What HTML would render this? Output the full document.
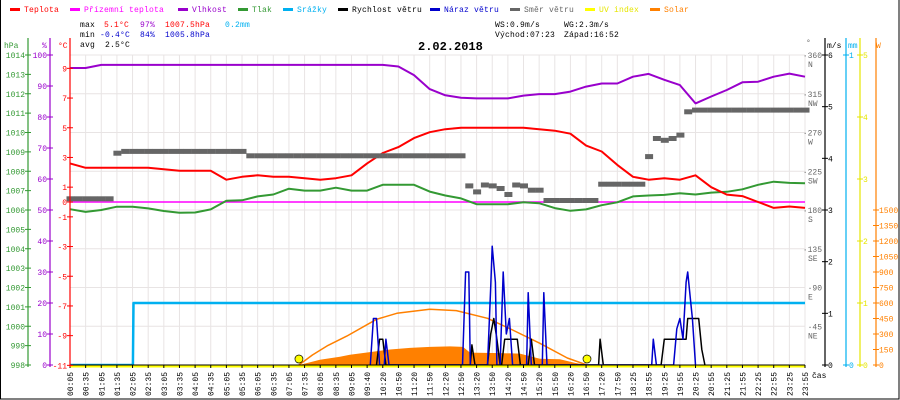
<!DOCTYPE html>
<html><head><meta charset="utf-8"><style>
html,body{margin:0;padding:0;background:#fff;}
svg{display:block;font-family:"Liberation Mono",monospace;}
</style></head><body>
<svg id="c" width="900" height="400" viewBox="0 0 900 400" xmlns="http://www.w3.org/2000/svg">
<rect x="0.5" y="-1" width="898.5" height="400" fill="#fff" stroke="#000" stroke-width="1"/>
<g id="legend" font-size="8" letter-spacing="0.2"></g>
<g font-size="8" letter-spacing="0.2">
<text x="80" y="27" fill="#000">max</text><text x="104" y="27" fill="#f00">5.1°C</text><text x="140" y="27" fill="#9900cc">97%</text><text x="165" y="27" fill="#f00">1007.5hPa</text><text x="225" y="27" fill="#00b0f0">0.2mm</text>
<text x="80" y="37" fill="#000">min</text><text x="100" y="37" fill="#00c">-0.4°C</text><text x="140" y="37" fill="#00c">84%</text><text x="165" y="37" fill="#00c">1005.8hPa</text>
<text x="80" y="47" fill="#000">avg</text><text x="105" y="47" fill="#000">2.5°C</text>
<text x="495" y="27" fill="#000">WS:0.9m/s</text><text x="564" y="27" fill="#000">WG:2.3m/s</text>
<text x="495" y="37" fill="#000">Východ:07:23</text><text x="564" y="37" fill="#000">Západ:16:52</text>
</g>
<text x="418" y="50" font-size="12" font-weight="bold" fill="#000">2.02.2018</text>
<g id="grid"></g>
<g id="series"></g>
<g id="axes" font-size="8"></g>
</svg>
<script>
// ---- data (x values in slot units of the category axis) ----
const timeLabels = ["00:05","00:35","01:05","01:35","02:05","02:35","03:05","03:35","04:05","04:35","05:05","05:35","06:05","06:35","07:05","07:35","08:05","08:35","09:05","09:40","10:20","10:50","11:20","11:50","12:20","12:50","13:20","13:50","14:20","14:50","15:20","15:50","16:20","16:50","17:20","17:50","18:25","18:55","19:25","19:55","20:25","20:55","21:25","21:55","22:25","22:55","23:25","23:55"];
const temperature = [2.6,2.3,2.3,2.3,2.3,2.3,2.2,2.1,2.1,2.1,1.5,1.7,1.8,1.7,1.7,1.6,1.5,1.6,1.8,2.6,3.3,3.7,4.3,4.7,4.9,5.0,5.0,5.0,5.0,5.0,4.9,4.8,4.6,3.8,3.4,2.5,1.7,1.5,1.6,1.5,1.8,1.0,0.5,0.4,0.0,-0.4,-0.3,-0.4];
const groundTemp = [0,0];
const humidity = [95.8,95.8,96.8,96.8,96.8,96.8,96.8,96.8,96.8,96.8,96.8,96.8,96.8,96.8,96.8,96.8,96.8,96.8,96.8,96.8,96.8,96.3,93.5,89,87,86.2,86,86,86,86.9,87.4,87.4,88.2,89.8,90.8,90.8,93,93.9,92,90.3,84.4,86.6,88.7,91.2,91.4,93,94,93];
const pressure = [1006.04,1005.9,1006,1006.17,1006.17,1006.08,1005.95,1005.86,1005.87,1006.03,1006.48,1006.5,1006.7,1006.8,1007.1,1007.0,1007.0,1007.15,1007.0,1007.0,1007.3,1007.3,1007.3,1006.95,1006.75,1006.6,1006.3,1006.3,1006.3,1006.4,1006.35,1006.1,1005.96,1006.03,1006.25,1006.4,1006.7,1006.75,1006.78,1006.86,1006.8,1006.9,1006.94,1007.07,1007.3,1007.46,1007.4,1007.38];
const windDir = [193,193,193,193,193,193,246,248,248,248,248,248,248,248,248,248,248,248,248,248,248,248,248,243,243,243,243,243,243,243,243,243,243,243,243,243,243,243,243,243,243,243,243,243,243,243,243,243,243,243,243,208,201,209,208,205,198,209,208,203,203,191,191,191,191,191,191,191,210,210,210,210,210,210,242,263,261,263,267,294,296,296,296,296,296,296,296,296,296,296,296,296,296,296,296];
const gustT = [19.2,19.4,19.6,19.8,20.1,20.2,20.4,25.1,25.3,25.5,25.6,26.7,26.9,27.0,27.2,27.3,27.5,27.7,27.9,28.1,28.3,29.2,29.3,29.5,30.2,30.3,30.5,37.2,37.3,37.5,38.6,38.8,39.0,39.2,39.4,39.5,39.7,39.8,40.0];
const gustV = [0,0.9,0.9,0,0,0.5,0,0,1.8,1.8,0,0,1.5,2.3,1.6,0,0,1.8,0.6,0.9,0,0,1.4,0,0,1.4,0,0,0.5,0,0,0.7,0.9,0.5,1.6,1.8,1.2,0.9,0];
const speedT = [19.6,19.8,20.0,20.2,25.6,25.7,25.9,26.7,26.9,27.1,27.3,27.5,27.6,27.8,28.6,28.8,29.3,29.5,29.7,33.8,33.9,34.1,37.8,38.0,39.4,39.5,40.2,40.4,40.6];
const speedV = [0,0.5,0.5,0,0,0.39,0,0,0.6,0.9,0.5,0,0,0.5,0.5,0,0,0.5,0,0,0.5,0,0,0.5,0.5,0.9,0.9,0.3,0];
const solarT = [14.64,15.2,15.98,17.26,17.9,19.18,20.46,21.74,23.02,24.3,25.13,25.58,27.49,28.77,30.05,31.33,32.29,33.06];
const solarV = [0,20,50,80,100,125,150,165,175,180,175,120,115,110,60,55,20,0];
const solarMaxT = [14.64,15.5,16.5,17.7,19.6,20.9,23.0,24.7,26.7,28.3,30.05,31.8,33.06];
const solarMaxV = [0,97,190,280,442,500,539,526,452,339,210,68,0];
const rainT = [0,4.02,4.06,47];
const rainV = [0,0,0.2,0.2];
const sunEvents = [14.64,33.06];

// ---- scales ----
const X0=70, X1=805, Y0=55, Y1=365, NS=timeLabels.length-1;
const sx = s => X0 + s*(X1-X0)/NS;
const yT = v => 202 - v*14.85;
const yH = v => Y1 - v*3.1;
const yP = v => Y1 - (v-998)*19.375;
const yD = v => Y1 - v*(Y1-Y0)/360;
const yW = v => Y1 - v*(Y1-Y0)/6;
const yR = v => Y1 - v*(Y1-Y0)/1;
const yS = v => Y1 - v*(Y1-210)/1500;
const yUV = v => Y1 - v*(Y1-Y0)/5;
const NS_ = "http://www.w3.org/2000/svg";
function mk(tag, attrs, parent){const e=document.createElementNS(NS_,tag);for(const k in attrs)e.setAttribute(k,attrs[k]);parent.appendChild(e);return e;}
const grid=document.getElementById('grid'), ser=document.getElementById('series'), ax=document.getElementById('axes'), leg=document.getElementById('legend');

// legend
const legendItems=[["Teplota","#f00",10],["Přízemní teplota","#f0f",70],["Vlhkost","#9900cc",178],["Tlak","#339933",238],["Srážky","#00b0f0",283],["Rychlost větru","#000",338],["Náraz větru","#0000cc",430],["Směr větru","#666",510],["UV index","#ffff00",585],["Solar","#ff8000",650]];
legendItems.forEach(it=>{
  const g=mk('g',{},leg);
  
  
  mk('rect',{x:it[2],y:8,width:10,height:3,fill:it[1]},g);
  const t=mk('text',{x:it[2]+14,y:12,fill:(it[1]=="#ffff00"?"#e6e600":it[1])},g);
  t.textContent=it[0];
});

// grid
for(let i=0;i<=NS;i++){
  const l=mk('line',{x1:sx(i),x2:sx(i),y1:Y0,y2:Y1,stroke:"#e8e4e4","stroke-width":1},grid);
  
  
}
for(let k=0;k<=8;k++){
  const y=Y0+k*38.75;
  const l=mk('line',{x1:X0,x2:X1,y1:y,y2:y,stroke:"#e8e4e4","stroke-width":1},grid);
  
  
}

function pts(xs, ys, fy){return xs.map((s,i)=>sx(s).toFixed(1)+","+fy(ys[i]).toFixed(1)).join(" ");}
function line(xs, ys, fy, color, w, name){
  const p=mk('polyline',{points:pts(xs,ys,fy),fill:"none",stroke:color,"stroke-width":w,"stroke-linejoin":"round"},ser);
  
  
  return p;
}
const idx = a => a.map((_,i)=>i);

// solar fill
const sf=mk('polygon',{points:sx(solarT[0])+","+Y1+" "+pts(solarT,solarV,yS)+" "+sx(solarT[solarT.length-1])+","+Y1,fill:"#ff8000"},ser);


line(solarMaxT,solarMaxV,yS,"#ff8000",1.5,"solar-max-line");
// rain
line(rainT,rainV,yR,"#00b0f0",2.5,"precipitation-line");
// ground temp
line([0,NS],groundTemp,yT,"#ff00ff",1.5,"ground-temperature-line");
line(idx(pressure),pressure,yP,"#339933",2,"pressure-line");
line(idx(humidity),humidity,yH,"#9900cc",2,"humidity-line");
line(idx(temperature),temperature,yT,"#ff0000",2,"temperature-line");
// wind direction squares
windDir.forEach((d,i)=>{
  const r=mk('rect',{x:(sx(i/2)-3.5).toFixed(1),y:(yD(d)-2.5).toFixed(1),width:8,height:5,fill:"#666"},ser);
  
  
});
line(speedT,speedV,yW,"#000",1.5,"wind-speed-line");
line(gustT,gustV,yW,"#0000cc",1.5,"wind-gust-line");

// bottom baseline (UV zero) 
const bl=mk('line',{x1:X0,x2:X1,y1:Y1+1,y2:Y1+1,stroke:"#ffff00","stroke-width":3},ax);


const bb=mk('line',{x1:X0,x2:X1,y1:Y1,y2:Y1,stroke:"#000","stroke-width":1},ax);


sunEvents.forEach(s=>{
  const c=mk('circle',{cx:sx(s),cy:359,r:4,fill:"#ffff00",stroke:"#000","stroke-width":0.7},ax);
  
  
});

// x tick labels
timeLabels.forEach((t,i)=>{
  mk('line',{x1:sx(i),x2:sx(i),y1:Y1,y2:Y1+3,stroke:"#000"},ax);
  const tx=mk('text',{x:0,y:0,transform:`translate(${(sx(i)+3).toFixed(1)},396) rotate(-90)`,fill:"#000","font-size":"8"},ax);
  
  
  tx.textContent=t;
});
const cas=mk('text',{x:812,y:378,fill:"#000"},ax); cas.textContent="čas";



// vertical axes
function vaxis(x,color,name,ticks,fy,labelX,anchor,title,titleX){
  const g=mk('g',{},ax);
  
  
  mk('line',{x1:x,x2:x,y1:Y0-17,y2:Y1+2,stroke:color,"stroke-width":1.2},g);
  ticks.forEach(v=>{
    const y=fy(v);
    mk('line',{x1:x-3,x2:x+3,y1:y,y2:y,stroke:color},g);
    const t=mk('text',{x:labelX,y:y+3,fill:color,"text-anchor":anchor},g);
    t.textContent=String(v);
  });
  const tt=mk('text',{x:titleX,y:48,fill:color},g); tt.textContent=title;
}
const hpaTicks=[998,999,1000,1001,1002,1003,1004,1005,1006,1007,1008,1009,1010,1011,1012,1013,1014];
const humTicks=[0,10,20,30,40,50,60,70,80,90,100];
const tempTicks=[9,7,5,3,1,0,-1,-3,-5,-7,-9,-11];
const windTicks=[0,1,2,3,4,5,6];
const rainTicks=[0,1];
const uvTicks=[0,1,2,3,4,5];
const solarTicks=[0,150,300,450,600,750,900,1050,1200,1350,1500];
const dirTicks=[45,90,135,180,225,270,315,360];
const dirNames=["NE","E","SE","S","SW","W","NW","N"];
vaxis(28,"#339933","pressure-axis",hpaTicks,yP,25,"end","hPa",4);
vaxis(50,"#9900cc","humidity-axis",humTicks,yH,47,"end","%",42);
vaxis(70,"#ff0000","temperature-axis",tempTicks,yT,67,"end","°C",58);
vaxis(825,"#000","wind-speed-axis",windTicks,yW,828,"start","m/s",827);
vaxis(846,"#00b0f0","precipitation-axis",rainTicks,yR,849,"start","mm",848);
vaxis(860,"#e6e600","uv-axis",uvTicks,yUV,863,"start","",860);
vaxis(876,"#ff8000","solar-axis",solarTicks.filter(v=>v>0||true),yS,879,"start","W",876);
// direction labels
dirTicks.forEach((d,i)=>{
  const y=yD(d);
  const t=mk('text',{x:822,y:y+3,fill:"#666","text-anchor":"end"},ax); t.textContent="·"+d;
  
  
  const n=mk('text',{x:808,y:y+12,fill:"#666"},ax); n.textContent=dirNames[i];
  
  
});
const deg=mk('text',{x:806,y:45,fill:"#666"},ax); deg.textContent="°";
</script>
</body></html>
